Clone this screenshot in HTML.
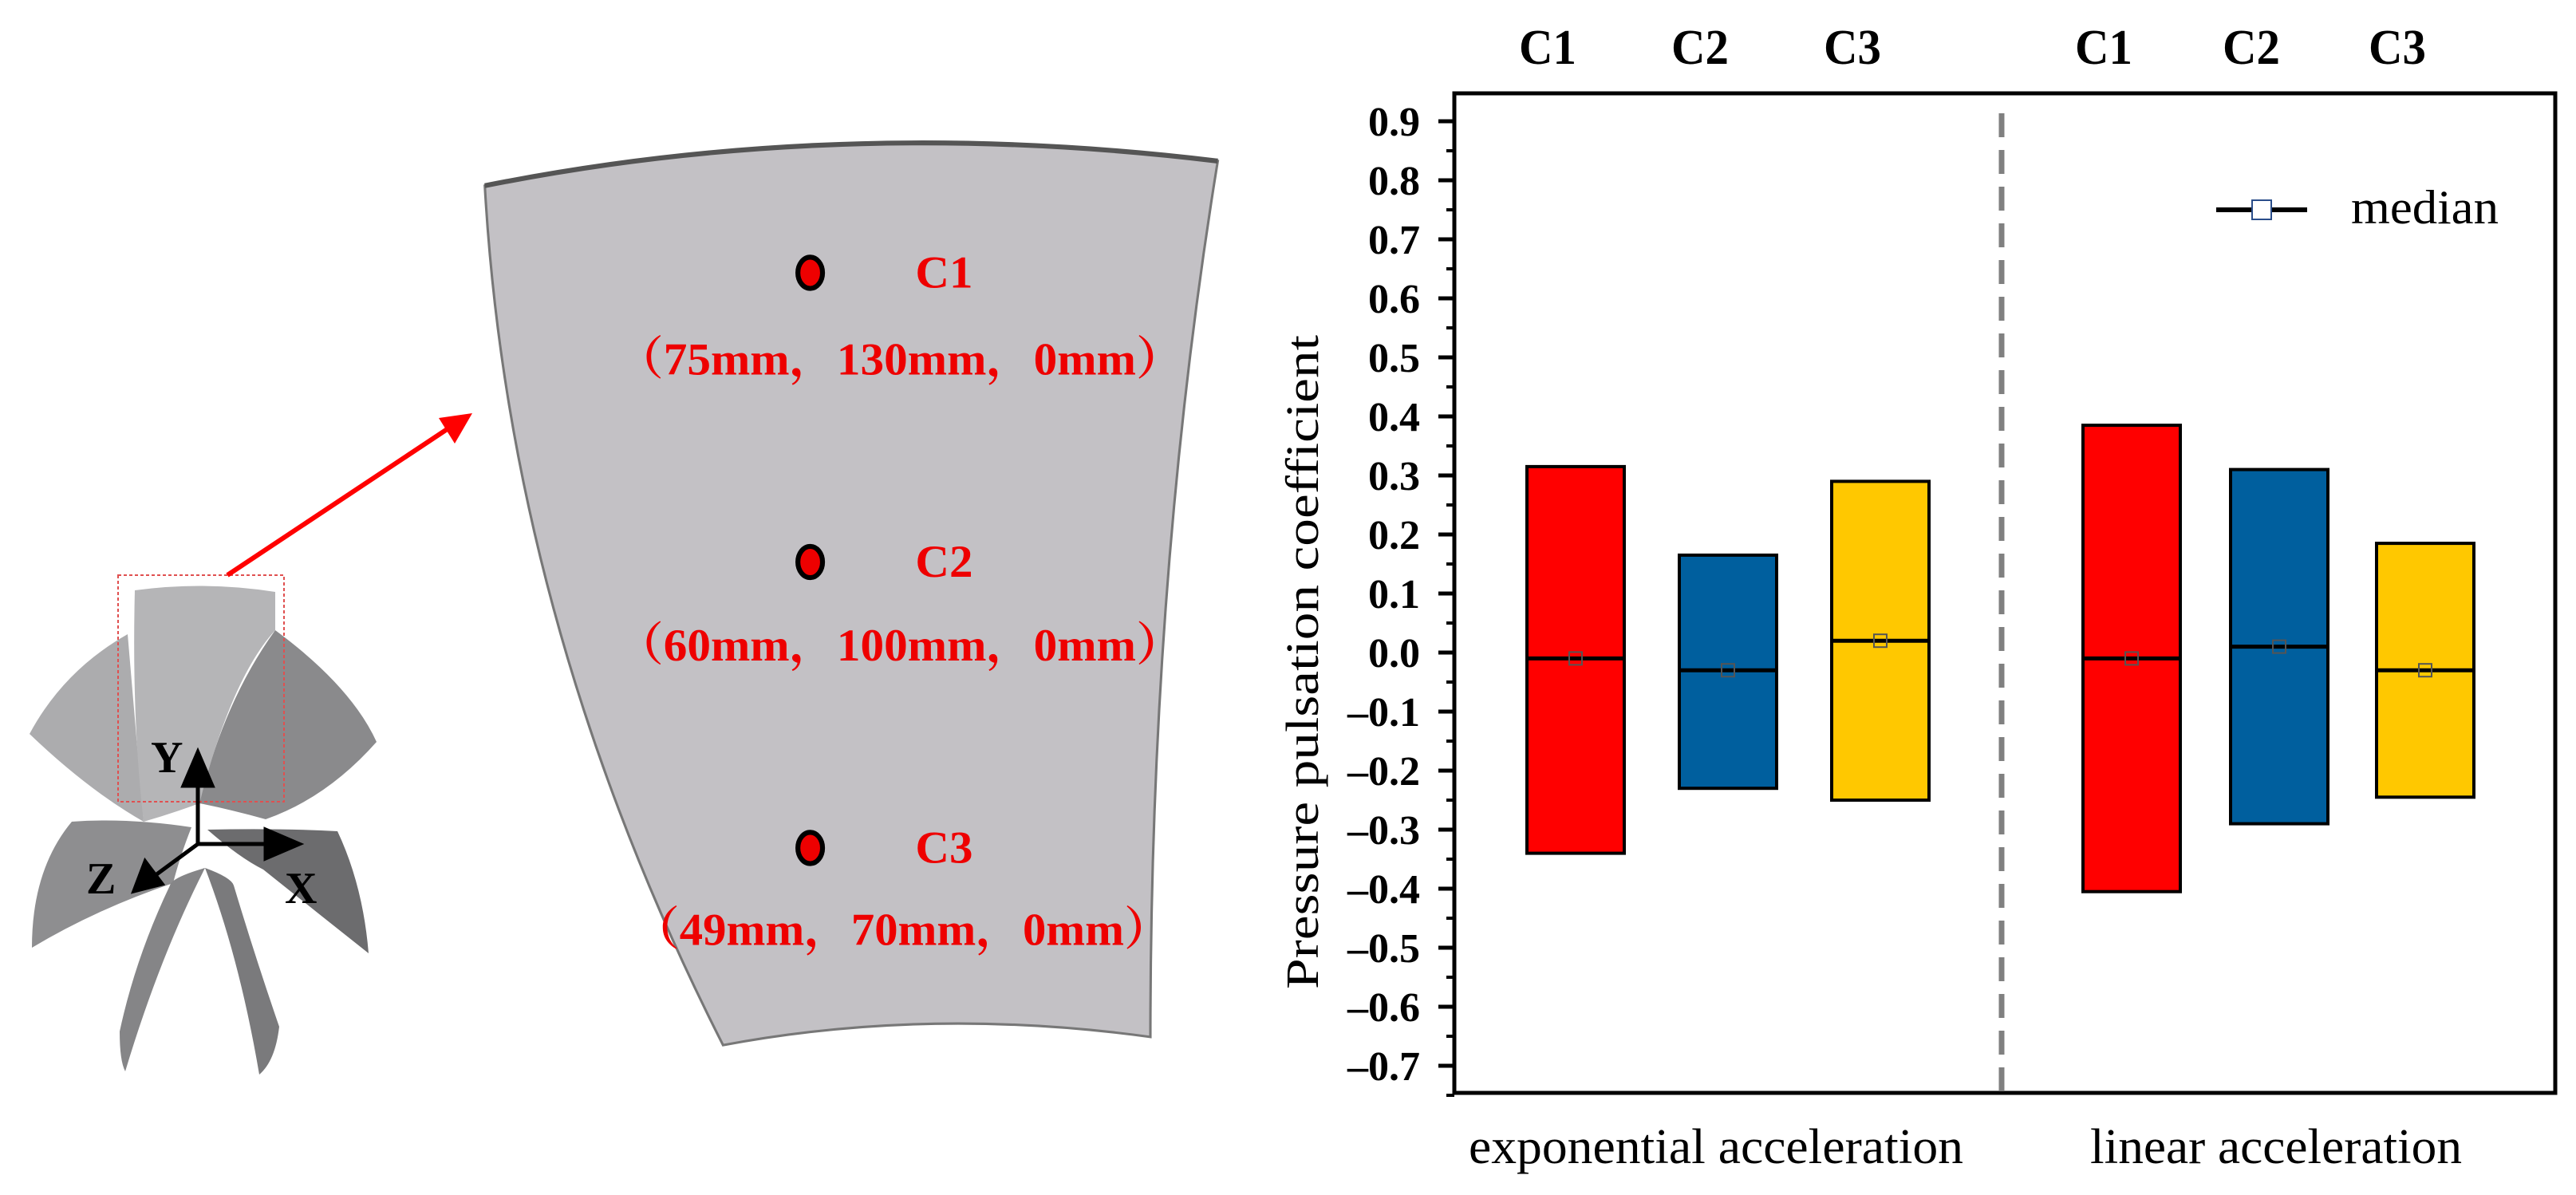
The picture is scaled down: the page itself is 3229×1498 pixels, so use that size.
<!DOCTYPE html>
<html><head><meta charset="utf-8"><style>
html,body{margin:0;padding:0;background:#fff;}
svg{display:block;}
</style></head><body>
<svg width="3229" height="1498" viewBox="0 0 3229 1498" xmlns="http://www.w3.org/2000/svg" font-family="Liberation Serif, serif">
<g>
  <path d="M160,795 Q80,840 37,920 Q110,990 180,1030 Z" fill="#acacae"/>
  <path d="M345,790 Q440,860 472,930 Q410,1000 333,1027 Q290,1015 250,1007 Q280,880 345,790Z" fill="#8a8a8c"/>
  <path d="M169,740 Q257,728 345,742 L345,790 Q290,850 250,1007 Q215,1020 180,1030 Q165,900 169,740 Z" fill="#b5b5b7"/>
  <path d="M90,1030 Q160,1025 240,1037 Q225,1075 217,1107 Q120,1140 40,1188 Q40,1090 90,1030Z" fill="#8e8e90"/>
  <path d="M260,1040 Q350,1038 423,1042 Q455,1110 462,1195 Q380,1130 330,1090 Q300,1075 260,1040Z" fill="#6c6c6e"/>
  <path d="M257,1088 Q215,1100 213,1110 Q170,1200 150,1293 Q150,1330 157,1343 Q200,1200 257,1088Z" fill="#858587"/>
  <path d="M257,1088 Q290,1100 293,1110 Q320,1200 350,1287 Q345,1330 325,1347 Q300,1200 257,1088Z" fill="#7a7a7c"/>
  <rect x="148" y="721" width="208" height="284" fill="none" stroke="#e05050" stroke-width="2" stroke-dasharray="4,3"/>
  <g stroke="#000" stroke-width="5" fill="#000">
    <line x1="248" y1="1058" x2="248" y2="970"/><polygon points="248,943 230,985 266,985"/>
    <line x1="248" y1="1058" x2="345" y2="1058"/><polygon points="375,1058 333,1040 333,1076"/>
    <line x1="248" y1="1058" x2="195" y2="1097"/><polygon points="168,1117 182,1080 203,1108"/>
  </g>
  <text x="189" y="968" font-size="56" font-weight="bold">Y</text>
  <text x="357" y="1132" font-size="56" font-weight="bold">X</text>
  <text x="108" y="1120" font-size="56" font-weight="bold">Z</text>
</g>
<line x1="285" y1="721" x2="565" y2="535" stroke="#f00" stroke-width="6"/>
<polygon points="592,518 550,524 570,556" fill="#f00"/>
<g transform="scale(1.03)">
  <path d="M590,226 Q1020,140 1482,196 Q1400,700 1400,1262 Q1130,1225 880,1272 Q620,760 590,226 Z" fill="#c3c1c5" stroke="#777" stroke-width="3"/>
  <path d="M590,226 Q1020,140 1482,196" fill="none" stroke="#555" stroke-width="6"/>
  <g fill="#e00" stroke="#000" stroke-width="6">
    <ellipse cx="986" cy="332" rx="15" ry="19"/>
    <ellipse cx="986" cy="684" rx="15" ry="19"/>
    <ellipse cx="986" cy="1032" rx="15" ry="19"/>
  </g>
  <g fill="#e00" font-weight="bold" font-family="Liberation Serif, 'Noto Serif CJK SC', serif" font-size="56">
    <text x="1149" y="350" text-anchor="middle" textLength="70" lengthAdjust="spacingAndGlyphs">C1</text>
    <text x="750" y="456" textLength="690" lengthAdjust="spacingAndGlyphs">（75mm，130mm，0mm）</text>
    <text x="1149" y="702" text-anchor="middle" textLength="70" lengthAdjust="spacingAndGlyphs">C2</text>
    <text x="750" y="804" textLength="690" lengthAdjust="spacingAndGlyphs">（60mm，100mm，0mm）</text>
    <text x="1149" y="1050" text-anchor="middle" textLength="70" lengthAdjust="spacingAndGlyphs">C3</text>
    <text x="770" y="1150" textLength="655" lengthAdjust="spacingAndGlyphs">（49mm，70mm，0mm）</text>
  </g>
</g>
<g id="chart"></g>
</svg>
<script>
const categories = ["C1","C2","C3","C1","C2","C3"];
const groups = ["exponential acceleration","linear acceleration"];
const upperValues = [0.315, 0.165, 0.29, 0.385, 0.31, 0.185];
const lowerValues = [-0.34, -0.23, -0.25, -0.405, -0.29, -0.245];
const medianValues = [-0.01, -0.03, 0.02, -0.01, 0.01, -0.03];
const colors = ["#ff0000","#005f9e","#ffc800","#ff0000","#005f9e","#ffc800"];
const tickLabels = ["0.9","0.8","0.7","0.6","0.5","0.4","0.3","0.2","0.1","0.0","-0.1","-0.2","-0.3","-0.4","-0.5","-0.6","-0.7"];

const NS="http://www.w3.org/2000/svg";
const g=document.getElementById('chart');
const L=1823,R=3203,T=117,B=1370;
function y(v){return 818-v*740;}
const xCenters=[1975,2166,2357,2672,2857,3040];
function xc(i){return xCenters[i];}
const bw=122;
function mk(tag,attrs,parent){const e=document.createElementNS(NS,tag);for(const k in attrs)e.setAttribute(k,attrs[k]);(parent||g).appendChild(e);return e;}

let fr=mk('rect',{x:L,y:T,width:R-L,height:B-T,fill:'none',stroke:'#000','stroke-width':5});


tickLabels.forEach(function(t){
  const v=parseFloat(t);
  const ln=mk('line',{x1:L-20,x2:L,y1:y(v),y2:y(v),stroke:'#000','stroke-width':5});
  
  
  const mn=mk('line',{x1:L-10,x2:L,y1:y(v-0.05),y2:y(v-0.05),stroke:'#000','stroke-width':4});
  
  
  const tx=mk('text',{x:1780,y:y(v)+18,'text-anchor':'end','font-size':52,'font-weight':'bold'});
  tx.textContent=t.replace('-','\u2013');
  
  
});
let yt=mk('text',{x:0,y:0,'font-size':58,'text-anchor':'middle',textLength:820,lengthAdjust:'spacingAndGlyphs',transform:'translate(1652,830) rotate(-90)'});
yt.textContent='Pressure pulsation coefficient';


let dv=mk('line',{x1:2509,x2:2509,y1:142,y2:1370,stroke:'#808080','stroke-width':7,'stroke-dasharray':'30,16'});


categories.forEach(function(c,i){
  const x=xc(i)-bw/2;
  const r=mk('rect',{x:x,y:y(upperValues[i]),width:bw,height:y(lowerValues[i])-y(upperValues[i]),fill:colors[i],stroke:'#000','stroke-width':4});
  
  
  const m=mk('line',{x1:x,x2:x+bw,y1:y(medianValues[i]),y2:y(medianValues[i]),stroke:'#000','stroke-width':5});
  
  
  const s=mk('rect',{x:xc(i)-8,y:y(medianValues[i])-8,width:16,height:16,fill:'none',stroke:'#555','stroke-width':2});
  
  
  const lb=mk('text',{x:xc(i)-35,y:80,'text-anchor':'middle','font-size':62,'font-weight':'bold',textLength:72,lengthAdjust:'spacingAndGlyphs'});
  lb.textContent=c;
  
  
});
const groupCenters=[2151,2853];
const groupWidths=[620,466];
groups.forEach(function(gname,j){
  const t=mk('text',{x:groupCenters[j],y:1458,'text-anchor':'middle','font-size':62,textLength:groupWidths[j],lengthAdjust:'spacingAndGlyphs'});
  t.textContent=gname;
  
  
});
let lg=mk('g',{});


mk('line',{x1:2778,x2:2892,y1:263,y2:263,stroke:'#000','stroke-width':6},lg);
mk('rect',{x:2823,y:251,width:24,height:24,fill:'#fff',stroke:'#2a4d8a','stroke-width':2},lg);
const lt=mk('text',{x:2947,y:280,'font-size':60,textLength:185,lengthAdjust:'spacingAndGlyphs'},lg);
lt.textContent='median';
</script>
</body></html>
